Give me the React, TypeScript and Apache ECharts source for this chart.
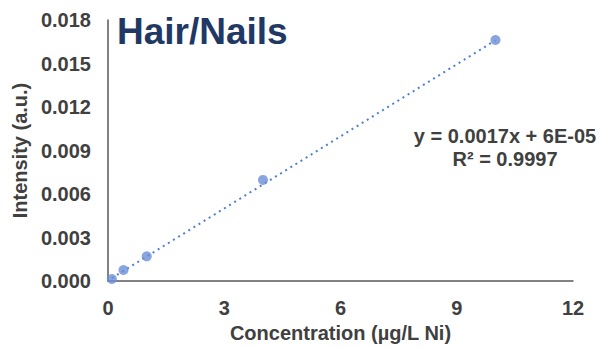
import React, { useEffect, useRef } from "react";
import * as echarts from "echarts";

const concentration = [0.1, 0.4, 1, 4, 10];
const intensity = [0.00014, 0.00076, 0.0017, 0.00697, 0.01662];
const trendX = [0.1, 10];
const trendY = [0.0002, 0.0166];
const equationLines = ["y = 0.0017x + 6E-05", "R² = 0.9997"];
const chartTitle = "Hair/Nails";
const xName = "Concentration (µg/L Ni)";
const yName = "Intensity (a.u.)";

export default function App() {
  const ref = useRef<HTMLDivElement>(null);
  useEffect(() => {
    if (!ref.current) return;
    const chart = echarts.init(ref.current, null, { renderer: "svg" });
    const font = "Liberation Sans, Arial, sans-serif";
    const textColor = "#404040";
    chart.setOption({
      animation: false,
      backgroundColor: "#ffffff",
      textStyle: { fontFamily: font },
      title: {
        text: chartTitle,
        left: 112,
        top: 8,
        textStyle: { fontSize: 37, fontWeight: "bold", color: "#1f3864", fontFamily: font },
      },
      grid: { left: 108, right: 26, top: 20, bottom: 68 },
      xAxis: {
        type: "value",
        min: 0,
        max: 12,
        interval: 3,
        name: xName,
        nameLocation: "middle",
        nameGap: 33,
        nameTextStyle: { fontSize: 20, fontWeight: "bold", color: textColor },
        axisLine: { show: true, lineStyle: { color: "#595959", width: 1.5 } },
        axisTick: { show: false },
        splitLine: { show: false },
        axisLabel: { fontSize: 20, fontWeight: "bold", color: textColor, margin: 17 },
      },
      yAxis: {
        type: "value",
        min: 0,
        max: 0.018,
        interval: 0.003,
        name: yName,
        nameLocation: "middle",
        nameGap: 75,
        nameTextStyle: { fontSize: 20, fontWeight: "bold", color: textColor },
        axisLine: { show: true, lineStyle: { color: "#595959", width: 1.5 } },
        axisTick: { show: false },
        splitLine: { show: false },
        axisLabel: {
          fontSize: 20,
          fontWeight: "bold",
          color: textColor,
          margin: 17,
          formatter: (v: number) => v.toFixed(3),
        },
      },
      graphic: [
        {
          type: "text",
          x: 505,
          y: 124,
          style: {
            text: equationLines.join("\n"),
            font: `bold 20px ${font}`,
            fill: textColor,
            align: "center",
            verticalAlign: "top",
            lineHeight: 23,
          },
        },
      ],
      series: [
        {
          type: "line",
          data: trendX.map((x, i) => [x, trendY[i]]),
          symbol: "none",
          lineStyle: { color: "#4f7fd0", width: 2, type: [2, 4] },
          z: 1,
        },
        {
          type: "scatter",
          data: concentration.map((x, i) => [x, intensity[i]]),
          symbolSize: 10,
          itemStyle: { color: "#6a8fd7" },
          z: 2,
        },
      ],
    });
    return () => chart.dispose();
  }, []);
  return (
    <div
      ref={ref}
      style={{ position: "absolute", left: 0, top: 0, width: 599, height: 349 }}
    />
  );
}
